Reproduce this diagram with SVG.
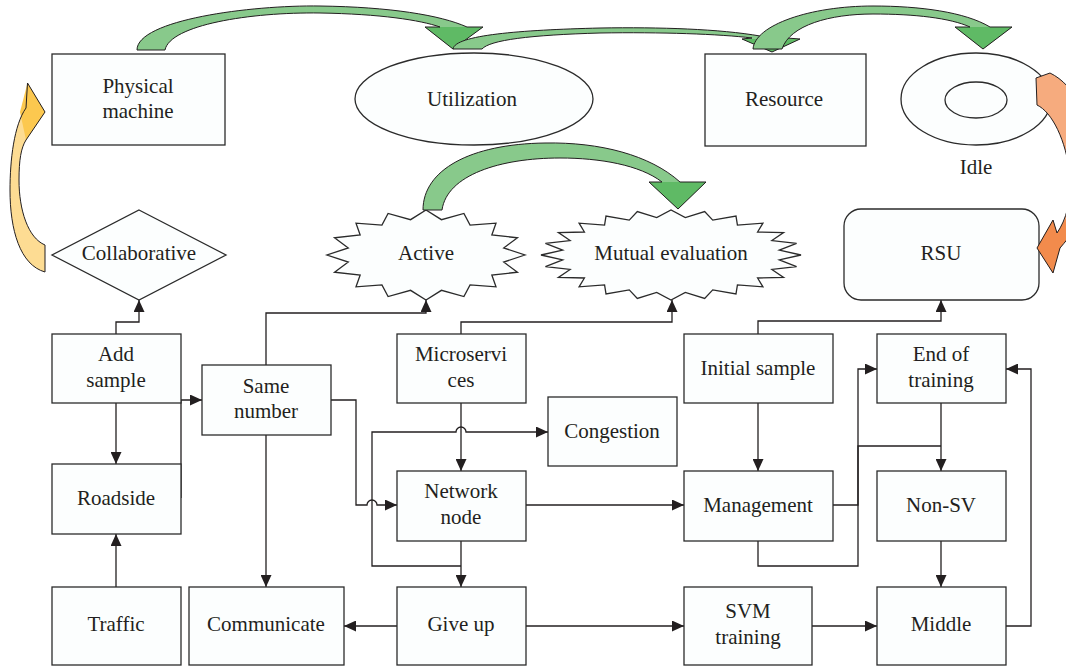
<svg xmlns="http://www.w3.org/2000/svg" xmlns:xlink="http://www.w3.org/1999/xlink" width="1066" height="667" viewBox="0 0 1066 667">
<style>
.box{fill:#fcfefe;stroke:#2b2b2b;stroke-width:1.3}
.t{font-family:"Liberation Serif","Times New Roman",serif;font-size:21px;fill:#231f20;text-anchor:middle}
.c{fill:none;stroke:#231f20;stroke-width:1.3}
.ol{fill:none;stroke:#231f20;stroke-width:1}
.gl{fill:#88c98b}.gd{fill:#5fba65}
.yl{fill:#fddc93}.yd{fill:#fcc84f}
.ql{fill:#f6ab7e}.qd{fill:#f28b4c}
</style>
<defs>
<marker id="ah" markerUnits="userSpaceOnUse" markerWidth="12" markerHeight="11" refX="12" refY="5.5" orient="auto">
<path d="M0,0 L12,5.5 L0,11 Z" fill="#231f20"/>
</marker>
<path id="arrA" d="M137,50 C137,20 250,5 320,6 C390,7 440,15 467,27 L483,27 L453,49 L425,27 L440,27 C420,20 380,14 320,13 C250,12 170,25 165,50 Z"/>
<path id="arrB" d="M453,49 C455,35 520,30 600,28 C660,27 720,29 760,36 L800,39 L772,52 L742,39 L752,38 C720,34 660,32 600,33 C530,35 490,40 482,49 Z"/>
<path id="arrC" d="M753,49 C755,25 810,6 873,6 C920,6 965,12 990,27 L1012,27 L983,49 L955,27 L970,27 C950,18 915,14 873,14 C830,14 790,25 782,49 Z"/>
<path id="arrD" d="M423,210 C423,170 470,144 545,143 C600,142 650,155 680,182 L706,182 L678,209 L649,182 L662,182 C640,165 600,158 560,158 C500,158 447,175 442,210 Z"/>
<path id="arrE" d="M45,245 C28,238 19,210 19,180 C19,160 21,148 26,140 L45,112 L27.5,83 L26,108 C14,125 10,160 10,190 C10,230 20,265 45,272 Z"/>
<path id="arrF" d="M1036,78 L1037,105 C1052,112 1066,140 1070,175 C1072,200 1066,220 1057,233 L1053,220 L1037,248 L1053,273 L1060,248 C1080,225 1095,200 1094,165 C1093,120 1075,85 1050,73 Z"/>
</defs>

<g id="connectors">
<path class="c" d="M116,334 V322 H139 V300" marker-end="url(#ah)"/>
<path class="c" d="M116,403 V464" marker-end="url(#ah)"/>
<path class="c" d="M116,587 V534" marker-end="url(#ah)"/>
<path class="c" d="M181,498 V400 H202" marker-end="url(#ah)"/>
<path class="c" d="M266,365 V313 H426 V300" marker-end="url(#ah)"/>
<path class="c" d="M266,435 V587" marker-end="url(#ah)"/>
<path class="c" d="M331,400 H356 V505 H367 A5,5 0 0 1 377,505 H397" marker-end="url(#ah)"/>
<path class="c" d="M461,334 V322 H672 V300" marker-end="url(#ah)"/>
<path class="c" d="M461,403 V471" marker-end="url(#ah)"/>
<path class="c" d="M461,541 V587" marker-end="url(#ah)"/>
<path class="c" d="M461,566 H372 V432 H456 A5,5 0 0 1 466,432 H548" marker-end="url(#ah)"/>
<path class="c" d="M526,505 H684" marker-end="url(#ah)"/>
<path class="c" d="M397,626 H344" marker-end="url(#ah)"/>
<path class="c" d="M526,626 H684" marker-end="url(#ah)"/>
<path class="c" d="M812,626 H877" marker-end="url(#ah)"/>
<path class="c" d="M758,334 V321 H941 V300" marker-end="url(#ah)"/>
<path class="c" d="M758,403 V471" marker-end="url(#ah)"/>
<path class="c" d="M833,505 H858 V369 H877" marker-end="url(#ah)"/>
<path class="c" d="M758,541 V566 H858 V446 H941"/>
<path class="c" d="M941,403 V471" marker-end="url(#ah)"/>
<path class="c" d="M941,541 V587" marker-end="url(#ah)"/>
<path class="c" d="M1006,626 H1031 V369 H1006" marker-end="url(#ah)"/>
</g>

<g id="physical-machine">
<rect class="box" x="52" y="54" width="173" height="91"/>
<text class="t" x="138" y="93">Physical</text>
<text class="t" x="138" y="118">machine</text>
</g>
<g id="utilization">
<ellipse class="box" cx="474" cy="99" rx="119" ry="46"/>
<text class="t" x="472" y="106">Utilization</text>
</g>
<g id="resource">
<rect class="box" x="705" y="54" width="161" height="92"/>
<text class="t" x="784" y="106">Resource</text>
</g>
<g id="idle">
<ellipse class="box" cx="976" cy="99" rx="75" ry="46"/>
<ellipse class="box" cx="976" cy="100" rx="31" ry="18"/>
<text class="t" x="976" y="174">Idle</text>
</g>
<g id="collaborative">
<polygon class="box" points="139,210 226,255 139,300 52,255"/>
<text class="t" x="139" y="260">Collaborative</text>
</g>
<g id="active">
<polygon class="box" vector-effect="non-scaling-stroke" transform="translate(426,255) scale(0.99,0.45)" points="100,0 78.5,15.6 92.4,38.3 66.5,44.5 70.7,70.7 44.5,66.5 38.3,92.4 15.6,78.5 0,100 -15.6,78.5 -38.3,92.4 -44.5,66.5 -70.7,70.7 -66.5,44.5 -92.4,38.3 -78.5,15.6 -100,0 -78.5,-15.6 -92.4,-38.3 -66.5,-44.5 -70.7,-70.7 -44.5,-66.5 -38.3,-92.4 -15.6,-78.5 0,-100 15.6,-78.5 38.3,-92.4 44.5,-66.5 70.7,-70.7 66.5,-44.5 92.4,-38.3 78.5,-15.6"/>
<text class="t" x="426" y="260">Active</text>
</g>
<g id="mutual-evaluation">
<polygon class="box" vector-effect="non-scaling-stroke" transform="translate(671,255) scale(1.30,0.45)" points="100,0 83.3,11 96.6,25.9 77.6,32.1 86.6,50 66.6,51.1 70.7,70.7 51.1,66.6 50,86.6 32.1,77.6 25.9,96.6 11,83.3 0,100 -11,83.3 -25.9,96.6 -32.1,77.6 -50,86.6 -51.1,66.6 -70.7,70.7 -66.6,51.1 -86.6,50 -77.6,32.1 -96.6,25.9 -83.3,11 -100,0 -83.3,-11 -96.6,-25.9 -77.6,-32.1 -86.6,-50 -66.6,-51.1 -70.7,-70.7 -51.1,-66.6 -50,-86.6 -32.1,-77.6 -25.9,-96.6 -11,-83.3 0,-100 11,-83.3 25.9,-96.6 32.1,-77.6 50,-86.6 51.1,-66.6 70.7,-70.7 66.6,-51.1 86.6,-50 77.6,-32.1 96.6,-25.9 83.3,-11"/>
<text class="t" x="671" y="260">Mutual evaluation</text>
</g>
<g id="rsu">
<rect class="box" x="844" y="209" width="195" height="91" rx="17" ry="17"/>
<text class="t" x="941" y="260">RSU</text>
</g>
<g id="add-sample">
<rect class="box" x="52" y="334" width="129" height="69"/>
<text class="t" x="116" y="361">Add</text>
<text class="t" x="116" y="387">sample</text>
</g>
<g id="same-number">
<rect class="box" x="202" y="365" width="129" height="70"/>
<text class="t" x="266" y="393">Same</text>
<text class="t" x="266" y="418">number</text>
</g>
<g id="microservices">
<rect class="box" x="397" y="334" width="129" height="69"/>
<text class="t" x="461" y="361">Microservi</text>
<text class="t" x="461" y="387">ces</text>
</g>
<g id="initial-sample">
<rect class="box" x="684" y="334" width="149" height="69"/>
<text class="t" x="758" y="375">Initial sample</text>
</g>
<g id="end-of-training">
<rect class="box" x="877" y="334" width="129" height="69"/>
<text class="t" x="941" y="361">End of</text>
<text class="t" x="941" y="387">training</text>
</g>
<g id="congestion">
<rect class="box" x="548" y="397" width="129" height="69"/>
<text class="t" x="612" y="438">Congestion</text>
</g>
<g id="roadside">
<rect class="box" x="52" y="464" width="129" height="70"/>
<text class="t" x="116" y="505">Roadside</text>
</g>
<g id="network-node">
<rect class="box" x="397" y="471" width="129" height="70"/>
<text class="t" x="461" y="498">Network</text>
<text class="t" x="461" y="524">node</text>
</g>
<g id="management">
<rect class="box" x="684" y="471" width="149" height="70"/>
<text class="t" x="758" y="512">Management</text>
</g>
<g id="non-sv">
<rect class="box" x="877" y="471" width="129" height="70"/>
<text class="t" x="941" y="512">Non-SV</text>
</g>
<g id="traffic">
<rect class="box" x="52" y="587" width="129" height="78"/>
<text class="t" x="116" y="631">Traffic</text>
</g>
<g id="communicate">
<rect class="box" x="189" y="587" width="155" height="78"/>
<text class="t" x="266" y="631">Communicate</text>
</g>
<g id="give-up">
<rect class="box" x="397" y="587" width="129" height="78"/>
<text class="t" x="461" y="631">Give up</text>
</g>
<g id="svm-training">
<rect class="box" x="684" y="587" width="128" height="78"/>
<text class="t" x="748" y="618">SVM</text>
<text class="t" x="748" y="644">training</text>
</g>
<g id="middle">
<rect class="box" x="877" y="587" width="129" height="78"/>
<text class="t" x="941" y="631">Middle</text>
</g>

<g id="block-arrows">
<g id="arrow-physical-utilization">
<use xlink:href="#arrA" class="gl"/>
<polygon points="425,27 483,27 453,49" class="gd"/>
<use xlink:href="#arrA" class="ol"/>
</g>
<g id="arrow-utilization-resource">
<use xlink:href="#arrB" class="gl"/>
<polygon points="742,39 800,39 772,52" class="gd"/>
<use xlink:href="#arrB" class="ol"/>
</g>
<g id="arrow-resource-idle">
<use xlink:href="#arrC" class="gl"/>
<polygon points="955,27 1012,27 983,49" class="gd"/>
<use xlink:href="#arrC" class="ol"/>
</g>
<g id="arrow-active-mutual">
<use xlink:href="#arrD" class="gl"/>
<polygon points="649,182 706,182 678,209" class="gd"/>
<use xlink:href="#arrD" class="ol"/>
</g>
<g id="arrow-collab-physical">
<use xlink:href="#arrE" class="yl"/>
<polygon points="27.5,83 45,112 26,140 20,112" class="yd"/>
<use xlink:href="#arrE" class="ol"/>
</g>
<g id="arrow-idle-rsu">
<use xlink:href="#arrF" class="ql"/>
<polygon points="1053,220 1037,248 1053,273 1060,248 1070,235 1068,215 1057,233" class="qd"/>
<use xlink:href="#arrF" class="ol"/>
</g>
</g>
</svg>
